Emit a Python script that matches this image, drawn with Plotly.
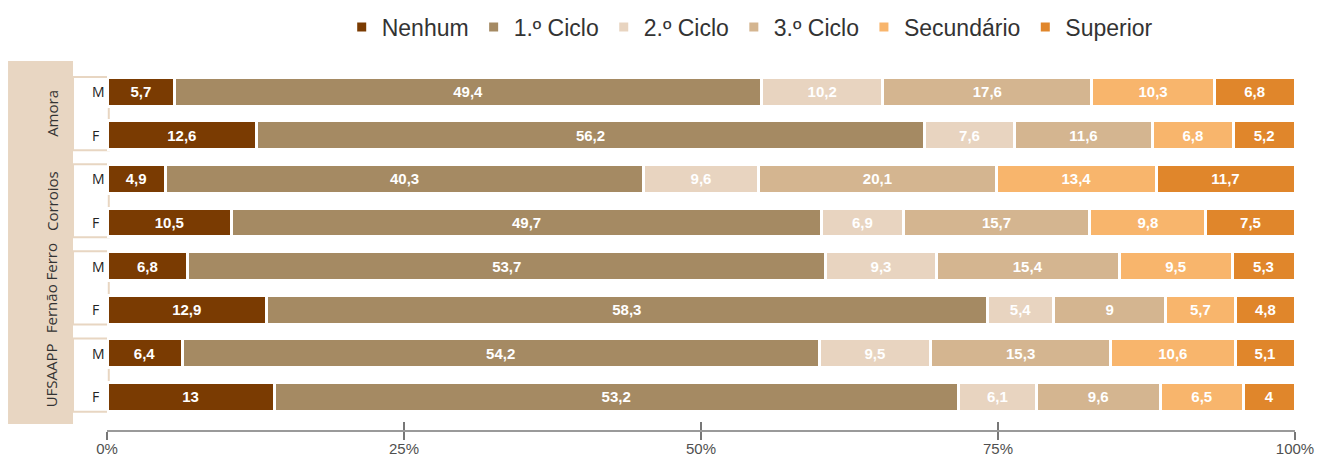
import plotly.graph_objects as go

# Stacked education-level shares by parish and sex (normalised to 100%)
groups = ["Amora", "Corroios", "Fernão Ferro", "UFSAAPP"]
sexes = ["M", "F"]
levels = ["Nenhum", "1.º Ciclo", "2.º Ciclo", "3.º Ciclo", "Secundário", "Superior"]

nenhum = [5.7, 12.6, 4.9, 10.5, 6.8, 12.9, 6.4, 13.0]
ciclo1 = [49.4, 56.2, 40.3, 49.7, 53.7, 58.3, 54.2, 53.2]
ciclo2 = [10.2, 7.6, 9.6, 6.9, 9.3, 5.4, 9.5, 6.1]
ciclo3 = [17.6, 11.6, 20.1, 15.7, 15.4, 9.0, 15.3, 9.6]
secundario = [10.3, 6.8, 13.4, 9.8, 9.5, 5.7, 10.6, 6.5]
superior = [6.8, 5.2, 11.7, 7.5, 5.3, 4.8, 5.1, 4.0]

series = [nenhum, ciclo1, ciclo2, ciclo3, secundario, superior]
colors = ["#7A3B02", "#A58A63", "#E8D4C0", "#D4B590", "#F8B56C", "#E0862B"]

x_ticks = [0, 25, 50, 75, 100]
x_tick_text = ["0%", "25%", "50%", "75%", "100%"]

rows = list(range(len(groups) * len(sexes)))


def fmt(v):
    return f"{v:g}".replace(".", ",")


fig = go.Figure()
for name, vals, col in zip(levels, series, colors):
    fig.add_trace(go.Bar(
        name=name,
        y=rows,
        x=vals,
        orientation="h",
        width=0.66,
        marker=dict(color=col, line=dict(color="white", width=3)),
        text=[fmt(v) for v in vals],
        textposition="inside",
        insidetextanchor="middle",
        textangle=0,
        constraintext="none",
        textfont=dict(family="Liberation Sans, Arial", size=15, color="white", weight="bold"),
        hoverinfo="skip",
    ))

# helper axis so ticks cross the baseline (inside half)
fig.add_trace(go.Scatter(x=[0, 100], y=[None, None], xaxis="x2", showlegend=False,
                         hoverinfo="skip", mode="lines"))

shapes = []
annotations = []

# tan side panel holding the parish names
shapes.append(dict(type="rect", xref="paper", yref="paper",
                   x0=-0.0833, x1=-0.0286, y0=0.017, y1=1.025,
                   fillcolor="#E8D6C2", line=dict(width=0), layer="below"))

for gi, g in enumerate(groups):
    top = gi * 2
    bot = gi * 2 + 1
    # white box with tan border around the M/F labels
    shapes.append(dict(type="rect", xref="paper", yref="y",
                       x0=-0.0286, x1=0.0015, y0=top - 0.34, y1=bot + 0.34,
                       fillcolor="white", line=dict(color="#E8D6C2", width=2), layer="below"))
    annotations.append(dict(xref="paper", yref="y", x=-0.057, y=(top + bot) / 2,
                            text=g, textangle=-90, showarrow=False,
                            font=dict(family="Open Sans", size=15, color="#333333")))
    for si, s in enumerate(sexes):
        annotations.append(dict(xref="paper", yref="y", x=-0.0145, y=top + si,
                                text=s, showarrow=False,
                                font=dict(family="Open Sans", size=14, color="#222222")))

fig.update_layout(
    width=1320, height=460,
    margin=dict(l=107, r=25, t=70, b=30, autoexpand=False),
    paper_bgcolor="white", plot_bgcolor="white",
    barmode="stack",
    barnorm="percent",
    showlegend=True,
    legend=dict(orientation="h", x=0.541, xanchor="center",
                yref="container", y=0.941, yanchor="middle",
                font=dict(family="Liberation Sans, Arial", size=23, color="#333333"),
                traceorder="normal", itemwidth=30),
    xaxis=dict(range=[0, 100], tickvals=x_ticks, ticktext=x_tick_text,
               showgrid=False, zeroline=False, showline=True, linecolor="#9A9A9A", linewidth=2,
               ticks="outside", ticklen=8, tickwidth=2, tickcolor="#777777",
               ticklabelstandoff=-4,
               tickfont=dict(family="Liberation Sans, Arial", size=15, color="#505050"),
               fixedrange=True, automargin=False),
    xaxis2=dict(range=[0, 100], overlaying="x", side="bottom", anchor="y",
                tickvals=x_ticks, showticklabels=False, ticks="inside", ticklen=8,
                tickwidth=2, tickcolor="#777777", showline=False, showgrid=False,
                zeroline=False),
    yaxis=dict(range=[7.76, -0.5], showticklabels=False, showgrid=False,
               zeroline=False, showline=False, ticks="", automargin=False),
    shapes=shapes,
    annotations=annotations,
)

fig.write_html("out.html")
